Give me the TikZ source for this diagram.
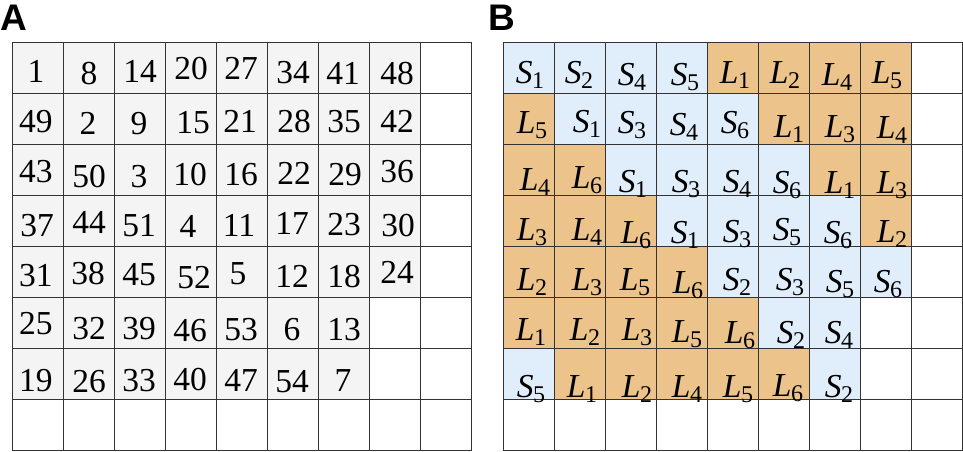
\documentclass[tikz,border=0pt]{standalone}
\usepackage{fontspec}
\setmainfont{Liberation Serif}
\newfontfamily\labfont{Liberation Sans}
\definecolor{cW}{HTML}{FFFFFF}
\definecolor{cG}{HTML}{F4F4F4}
\definecolor{cS}{HTML}{E0EDFA}
\definecolor{cL}{HTML}{EBC38B}
\definecolor{gridc}{HTML}{333333}
\newcommand\lsub[2]{\textit{#1}\kern-0.5pt\raisebox{-5.5pt}{\fontsize{24}{24}\selectfont #2}}
\begin{document}
\begin{tikzpicture}[x=1pt,y=-1pt,
  cell/.style={draw=gridc, line width=1pt, minimum size=51pt, inner sep=0pt, anchor=north west, rectangle},
  num/.style={inner sep=0pt, anchor=base, font=\fontsize{33.5}{33.5}\selectfont},
  panel/.style={inner sep=0pt, anchor=base west, font=\labfont\bfseries\fontsize{37}{37}\selectfont}]
\useasboundingbox (0,0) rectangle (963,452);
% panel labels
\node[panel] (labA) at (0,31) {A};
\node[panel] (labB) at (488,31) {B};
% grid A cells
\foreach \r in {1,...,8}{
  \foreach \c in {1,...,9}{
    \def\fc{cW}
    \ifnum\r<6 \ifnum\c<9 \def\fc{cG}\fi\fi
    \ifnum\r<8 \ifnum\c<8 \def\fc{cG}\fi\fi
    \node[cell, fill=\fc] (a-\r-\c) at ({12+51*(\c-1)},{42+51*(\r-1)}) {};
  }
}
% grid B cells
\foreach \r/\row in {1/{S,S,S,S,L,L,L,L,W},2/{L,S,S,S,S,L,L,L,W},3/{L,L,S,S,S,S,L,L,W},4/{L,L,L,S,S,S,S,L,W},5/{L,L,L,L,S,S,S,S,W},6/{L,L,L,L,L,S,S,W,W},7/{S,L,L,L,L,L,S,W,W},8/{W,W,W,W,W,W,W,W,W}}{
  \foreach \f [count=\c] in \row {
    \node[cell, fill=c\f] (b-\r-\c) at ({503+51*(\c-1)},{42+51*(\r-1)}) {};
  }
}
% texts A
\foreach \r/\c/\t/\x/\y in {
 1/1/1/36/71, 1/2/8/89/73, 1/3/14/140/71, 1/4/20/191/68.5, 1/5/27/241/68.5, 1/6/34/293/72, 1/7/41/343/73, 1/8/48/397/73,
 2/1/49/36/121, 2/2/2/88/123, 2/3/9/139/123, 2/4/15/193/122.5, 2/5/21/240/121, 2/6/28/294/121.5, 2/7/35/344/121, 2/8/42/397/121,
 3/1/43/36/171.5, 3/2/50/89/176, 3/3/3/139/176, 3/4/10/190/174, 3/5/16/241/174, 3/6/22/294/173, 3/7/29/345/174, 3/8/36/397/171.5,
 4/1/37/37/225, 4/2/44/89/222, 4/3/51/139/225, 4/4/4/188/226, 4/5/11/239/225, 4/6/17/292/223.5, 4/7/23/344/224, 4/8/30/398/225,
 5/1/31/36/275, 5/2/38/88/273, 5/3/45/139/274, 5/4/52/194/277, 5/5/5/238/273, 5/6/12/292/276, 5/7/18/344/276, 5/8/24/397/272.5,
 6/1/25/36/323.5, 6/2/32/89/328.5, 6/3/39/139/328.5, 6/4/46/190/330, 6/5/53/241/329, 6/6/6/292/329, 6/7/13/344/329,
 7/1/19/36/380, 7/2/26/89/381, 7/3/33/139/380, 7/4/40/190/379, 7/5/47/241/380, 7/6/54/292/381, 7/7/7/343/380}{
  \node[num] (ta-\r-\c) at (\x,\y+11) {\t};
}
% texts B
\foreach \r/\c/\l/\d/\x/\y in {
 1/1/S/1/530/83, 1/2/S/2/579/83, 1/3/S/4/632/85, 1/4/S/5/685/85, 1/5/L/1/735/83, 1/6/L/2/785/83, 1/7/L/4/837/85, 1/8/L/5/887/83,
 2/1/L/5/532/133, 2/2/S/1/587/132, 2/3/S/3/632/133, 2/4/S/4/684/135, 2/5/S/6/735/133, 2/6/L/1/789/137, 2/7/L/3/840/137, 2/8/L/4/892/138,
 3/1/L/4/535/190, 3/2/L/6/587/188, 3/3/S/1/633/192, 3/4/S/3/686/192, 3/5/S/4/737/192, 3/6/S/6/787/193, 3/7/L/1/840/193, 3/8/L/3/892/193,
 4/1/L/3/532/240, 4/2/L/4/587/240, 4/3/L/6/636/243, 4/4/S/1/685/243, 4/5/S/3/737/242, 4/6/S/5/787/240, 4/7/S/6/838/243, 4/8/L/2/892/242,
 5/1/L/2/532/290, 5/2/L/3/587/290, 5/3/L/5/635/290, 5/4/L/6/688/293, 5/5/S/2/737/290, 5/6/S/3/790/290, 5/7/S/5/840/292, 5/8/S/6/888/292,
 6/1/L/1/531/340, 6/2/L/2/585/340, 6/3/L/3/637/340, 6/4/L/5/687/342, 6/5/L/6/740/343, 6/6/S/2/791/343, 6/7/S/4/839/343,
 7/1/S/5/531/397, 7/2/L/1/582/397, 7/3/L/2/637/397, 7/4/L/4/687/397, 7/5/L/5/738/397, 7/6/L/6/788/396, 7/7/S/2/839/397}{
  \node[num] (tb-\r-\c) at (\x,\y) {\lsub{\l}{\d}};
}
\end{tikzpicture}
\end{document}
